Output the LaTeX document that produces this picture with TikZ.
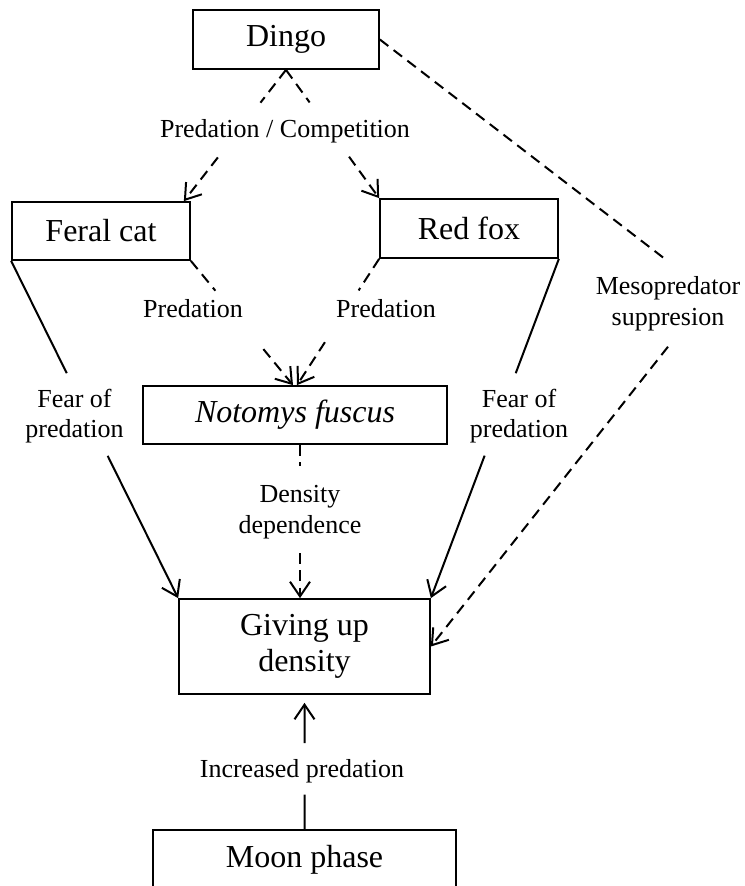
\documentclass[tikz,border=0pt]{standalone}
\usepackage{fontspec}
\setmainfont{Liberation Serif}
\usetikzlibrary{arrows.meta,calc}
\begin{document}
\begin{tikzpicture}[x=0.75pt,y=-0.75pt,
  box/.style={draw,line width=1.3pt,inner sep=0pt,font=\fontsize{24}{28}\selectfont},
  lbl/.style={align=center,inner sep=0pt,font=\fontsize{19.5}{23}\selectfont},
  link/.style={line width=1.5pt},
  dsh/.style={link,dash pattern=on 8pt off 5pt},
  tip/.style={-{Straight Barb[length=11pt,width=15pt]}}]
\useasboundingbox (0,0) rectangle (745,886);
\clip (0,0) rectangle (745,886);

% species and response boxes
\node[box,minimum width=139.5pt,minimum height=44.25pt] (dingo) at (286,39.5) {Dingo};
\node[box,minimum width=133.5pt,minimum height=43.5pt] (fc) at (101,231) {Feral cat};
\node[box,minimum width=133.5pt,minimum height=44.25pt] (rf) at (469,228.5) {Red fox};
\node[box,minimum width=228pt,minimum height=43.5pt] (nf) at (295,415) {\itshape Notomys fuscus};
\node[box,minimum width=188.25pt,minimum height=71.25pt,align=center,
      font=\fontsize{24}{27.5}\selectfont] (gud) at (304.5,646.5) {Giving up\\density};
\node[box,minimum width=227.25pt,minimum height=45pt] (moon) at (304.5,860) {Moon phase};

% interaction labels
\node[lbl] (pc) at (285,131) {Predation / Competition};
\node[lbl] (pl) at (193,309) {Predation};
\node[lbl] (pr) at (386,309) {Predation};
\node[lbl] (fl) at (74.5,416) {Fear of\\predation};
\node[lbl] (fr) at (519,416) {Fear of\\predation};
\node[lbl] (dd) at (300,512) {Density\\dependence};
\node[lbl,inner ysep=11.5pt] (ms) at (668,304) {Mesopredator\\suppresion};
\node[lbl] (ip) at (302,771) {Increased predation};

% arrow end points on the boxes
\coordinate (fcT) at ($(fc.north east)+(-7,0)$);
\coordinate (nfL) at ($(nf.north)+(-2,0)$);
\coordinate (nfR) at ($(nf.north)+(2,0)$);
\coordinate (ddT) at (dd |- nf.south);
\coordinate (ddB) at (dd |- gud.north);

% dingo -> cat / fox
\draw[dsh] (dingo.south) -- ($(dingo.south)!0.25!(fcT)$);
\draw[dsh,tip] ($(dingo.south)!0.667!(fcT)$) -- (fcT);
\draw[dsh] (dingo.south) -- ($(dingo.south)!0.254!(rf.north west)$);
\draw[dsh,tip] ($(dingo.south)!0.677!(rf.north west)$) -- (rf.north west);

% cat / fox -> Notomys
\draw[dsh] (fc.south east) -- ($(fc.south east)!0.24!(nfL)$);
\draw[dsh,tip] ($(fc.south east)!0.71!(nfL)$) -- (nfL);
\draw[dsh] (rf.south west) -- ($(rf.south west)!0.25!(nfR)$);
\draw[dsh,tip] ($(rf.south west)!0.66!(nfR)$) -- (nfR);

% fear of predation
\draw[link] (fc.south west) -- ($(fc.south west)!0.333!(gud.north west)$);
\draw[link,tip] ($(fc.south west)!0.578!(gud.north west)$) -- (gud.north west);
\draw[link] (rf.south east) -- ($(rf.south east)!0.337!(gud.north east)$);
\draw[link,tip] ($(rf.south east)!0.58!(gud.north east)$) -- (gud.north east);

% density dependence
\draw[dsh] (ddT) -- ($(ddT)!0.137!(ddB)$);
\draw[dsh,tip] ($(ddT)!0.706!(ddB)$) -- (ddB);

% mesopredator suppression
\draw[dsh] (dingo.east) -- (ms.north);
\draw[dsh,tip] (ms.south) -- (gud.east);

% moon phase
\draw[link] (moon.north) -- ($(moon.north)!0.257!(gud.south)$);
\draw[link,tip,shorten >=6pt] ($(moon.north)!0.64!(gud.south)$) -- (gud.south);
\end{tikzpicture}
\end{document}
